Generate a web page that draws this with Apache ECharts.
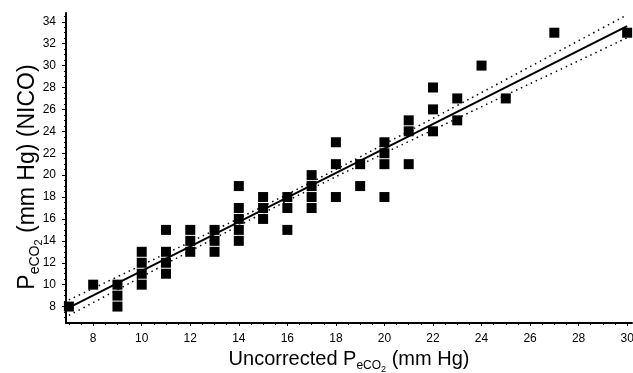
<!DOCTYPE html>
<html>
<head>
<meta charset="utf-8">
<script src="https://cdn.jsdelivr.net/npm/echarts@6/dist/echarts.min.js"></script>
<style>
html,body{margin:0;padding:0;background:#fff;}
#chart{width:633px;height:373px;}
</style>
</head>
<body>
<div id="chart"></div>
<script>
// Scatter data: uncorrected PeCO2 (x) vs NICO PeCO2 (y)
const xValues = [7, 8, 9, 9, 9, 10, 10, 10, 10, 11, 11, 11, 11, 12, 12, 12, 13, 13, 13,
  14, 14, 14, 14, 14, 15, 15, 15, 16, 16, 16, 17, 17, 17, 17, 18, 18, 18, 19, 19,
  20, 20, 20, 20, 21, 21, 21, 22, 22, 22, 23, 23, 24, 25, 27, 30];
const yValues = [8, 10, 10, 9, 8, 13, 12, 11, 10, 15, 13, 12, 11, 15, 14, 13, 15, 14, 13,
  19, 17, 16, 15, 14, 18, 17, 16, 18, 17, 15, 20, 19, 18, 17, 23, 21, 18, 21, 19,
  23, 22, 21, 18, 25, 24, 21, 28, 26, 24, 27, 25, 30, 27, 33, 33];

// Regression line end points
const fitX = [7, 30];
const fitY = [7.9, 33.6];

// Confidence band (dotted)
const bandX = [7, 9, 11, 13, 15, 17, 19, 21, 23, 25, 27, 29, 30];
const bandUpper = [8.61, 10.72, 12.84, 14.97, 17.15, 19.38, 21.67, 24.01, 26.36, 28.72, 31.09, 33.45, 34.64];
const bandLower = [7.19, 9.54, 11.90, 14.23, 16.53, 18.76, 20.93, 23.07, 25.18, 27.30, 29.39, 31.49, 32.54];

// Tick labels
const xTicks = [8, 10, 12, 14, 16, 18, 20, 22, 24, 26, 28, 30];
const yTicks = [8, 10, 12, 14, 16, 18, 20, 22, 24, 26, 28, 30, 32, 34];
const xMinor = [7, 7.5, 8.5, 9, 9.5, 10.5, 11, 11.5, 12.5, 13, 13.5, 14.5, 15, 15.5, 16.5, 17, 17.5,
  18.5, 19, 19.5, 20.5, 21, 21.5, 22.5, 23, 23.5, 24.5, 25, 25.5, 26.5, 27, 27.5, 28.5, 29, 29.5];
const yMinor = [7, 7.5, 8.5, 9, 9.5, 10.5, 11, 11.5, 12.5, 13, 13.5, 14.5, 15, 15.5, 16.5, 17, 17.5,
  18.5, 19, 19.5, 20.5, 21, 21.5, 22.5, 23, 23.5, 24.5, 25, 25.5, 26.5, 27, 27.5, 28.5, 29, 29.5,
  30.5, 31, 31.5, 32.5, 33, 33.5, 34.5];

const X_MIN = 6.88, X_MAX = 30.2, Y_MIN = 6.5, Y_MAX = 34.8;

const pts = xValues.map((x, i) => [x, yValues[i]]);
const fit = fitX.map((x, i) => [x, fitY[i]]);
const up = bandX.map((x, i) => [x, bandUpper[i]]);
const lo = bandX.map((x, i) => [x, bandLower[i]]);

const font = 'Liberation Sans, Arial, sans-serif';
function richFor(size) {
  return {
    m: { fontSize: size, fontFamily: font, color: '#000', verticalAlign: 'top' },
    sub: { fontSize: Math.round(size * 0.62), fontFamily: font, color: '#000', padding: [Math.round(size * 0.5), 0, 0, 0], verticalAlign: 'top' },
    sub2: { fontSize: Math.round(size * 0.47), fontFamily: font, color: '#000', padding: [Math.round(size * 0.76), 0, 0, 0], verticalAlign: 'top' }
  };
}

const chart = echarts.init(document.getElementById('chart'), null, { renderer: 'canvas' });
chart.setOption({
  animation: false,
  backgroundColor: '#fff',
  grid: { left: 66, right: 1, top: 13, bottom: 50, containLabel: false, outerBoundsMode: 'none' },
  xAxis: [{
    type: 'value', min: X_MIN, max: X_MAX,
    axisLine: { show: true, lineStyle: { color: '#000', width: 2 } },
    axisTick: { show: true, customValues: xTicks, length: 3, lineStyle: { color: '#000', width: 1 } },
    axisLabel: { customValues: xTicks, color: '#000', fontSize: 12, fontFamily: font, margin: 10 },
    splitLine: { show: false },
    name: '{m|Uncorrected P}{sub|eCO}{sub2|2}{m| (mm Hg)}',
    nameLocation: 'middle', nameGap: 24,
    nameTextStyle: { rich: richFor(20), fontSize: 20, fontFamily: font, color: '#000' }
  }, {
    type: 'value', min: X_MIN, max: X_MAX, position: 'bottom',
    axisLine: { show: false },
    axisTick: { show: true, customValues: xMinor, length: 2, lineStyle: { color: '#000', width: 1 } },
    axisLabel: { show: false }, splitLine: { show: false }
  }],
  yAxis: [{
    type: 'value', min: Y_MIN, max: Y_MAX,
    axisLine: { show: true, lineStyle: { color: '#000', width: 2 } },
    axisTick: { show: true, customValues: yTicks, length: 4, lineStyle: { color: '#000', width: 1 } },
    axisLabel: { customValues: yTicks, color: '#000', fontSize: 12, fontFamily: font, margin: 10 },
    splitLine: { show: false },
    name: '{m|P}{sub|eCO}{sub2|2}{m| (mm Hg) (NICO)}',
    nameLocation: 'middle', nameGap: 22, nameRotate: 90, nameMoveOverlap: false,
    nameTextStyle: { rich: richFor(23), fontSize: 23, fontFamily: font, color: '#000', padding: [0, 18, 0, 0] }
  }, {
    type: 'value', min: Y_MIN, max: Y_MAX, position: 'left',
    axisLine: { show: false },
    axisTick: { show: true, customValues: yMinor, length: 2, lineStyle: { color: '#000', width: 1 } },
    axisLabel: { show: false }, splitLine: { show: false }
  }],
  series: [{
    type: 'scatter', data: pts, symbol: 'rect', symbolSize: 10,
    itemStyle: { color: '#000', opacity: 1 }, z: 3
  }, {
    type: 'line', data: fit, showSymbol: false, symbol: 'none',
    lineStyle: { color: '#000', width: 2 }, z: 4
  }, {
    type: 'line', data: lo, showSymbol: false, symbol: 'none', smooth: true,
    lineStyle: { color: '#000', width: 1.5, type: [1.5, 4] }, z: 2
  }, {
    type: 'line', data: up, showSymbol: false, symbol: 'none', smooth: true,
    lineStyle: { color: '#000', width: 1.5, type: [1.5, 4] }, z: 2
  }]
});
</script>
</body>
</html>
